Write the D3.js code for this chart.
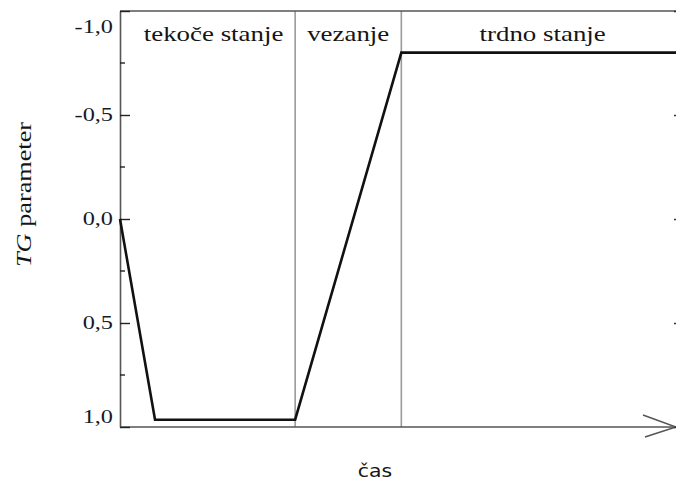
<!DOCTYPE html>
<html>
<head>
<meta charset="utf-8">
<script src="https://cdn.jsdelivr.net/npm/d3@7"></script>
<style>
  html, body { margin: 0; padding: 0; background: #fff; }
  svg { display: block; }
  text { font-family: "Liberation Serif", "Times New Roman", serif; fill: #151515; }
  text.sans { font-family: "DejaVu Sans", sans-serif; }
</style>
</head>
<body>
<svg id="chart" width="676" height="484" viewBox="0 0 676 484"></svg>
<script>
// TG parameter vs time — phases of setting (liquid / setting / solid)
const yTicks      = [-1, -0.5, 0, 0.5, 1];
const yTickLabels = ["-1,0", "-0,5", "0,0", "0,5", "1,0"];
const yMinor      = [-0.75, -0.25, 0.25, 0.75];
const phases      = ["tekoče stanje", "vezanje", "trdno stanje"];
const phaseBounds = [0, 31.5, 50.6, 100];   // time units (arbitrary, 0..100)
const time        = [0, 6.3, 31.5, 50.6, 100];
const tg          = [0, 0.965, 0.965, -0.8, -0.8];

const W = 676, H = 484;
const x = d3.scaleLinear([0, 100], [120, 676]);
const y = d3.scaleLinear([-1, 1], [11, 427]);

const svg = d3.select("#chart");
svg.append("rect").attr("width", W).attr("height", H).attr("fill", "#fff");

// stretch text horizontally (source glyphs are wide)
function widen(sel, k) {
  sel.each(function () {
    const w = this.getComputedTextLength();
    d3.select(this).attr("textLength", w * k).attr("lengthAdjust", "spacingAndGlyphs");
  });
}

// phase dividers
svg.append("g").selectAll("line").data(phaseBounds.slice(1, -1)).join("line")
  .attr("x1", d => x(d)).attr("x2", d => x(d))
  .attr("y1", y(-1)).attr("y2", y(1))
  .attr("stroke", "#9a9a9a").attr("stroke-width", 1.6);

// frame: top line and bottom axis with arrow
svg.append("line").attr("x1", x(0)).attr("x2", W).attr("y1", y(-1)).attr("y2", y(-1))
  .attr("stroke", "#555").attr("stroke-width", 1.6);
svg.append("line").attr("x1", x(0)).attr("x2", W).attr("y1", y(1)).attr("y2", y(1))
  .attr("stroke", "#555").attr("stroke-width", 1.6);
svg.append("path")
  .attr("d", `M${W - 33},${y(1) - 12} L${W},${y(1)} L${W - 31},${y(1) + 10}`)
  .attr("fill", "none").attr("stroke", "#555").attr("stroke-width", 1.6);

// left axis, ticks pointing inward
const axL = svg.append("g").attr("transform", `translate(${x(0)},0)`)
  .call(d3.axisLeft(y).tickValues(yTicks).tickSizeInner(-10).tickSizeOuter(0).tickPadding(7)
    .tickFormat((d, i) => yTickLabels[i]));
axL.select(".domain").attr("stroke", "#555").attr("stroke-width", 1.6);
axL.selectAll(".tick line").attr("stroke", "#222").attr("stroke-width", 1.4);
axL.selectAll(".tick text")
  .attr("font-size", 18).style("fill", "#141a28")
  .attr("y", d => Math.min(Math.max(y(d), 27), 417) - y(d));
widen(axL.selectAll(".tick text"), 1.35);
svg.append("g").attr("transform", `translate(${x(0)},0)`)
  .selectAll("line").data(yMinor).join("line")
  .attr("x1", 0).attr("x2", 5).attr("y1", d => y(d)).attr("y2", d => y(d))
  .attr("stroke", "#222").attr("stroke-width", 1.4);

// right axis (mostly outside the picture, only tick tips show)
const axR = svg.append("g").attr("transform", "translate(684,0)")
  .call(d3.axisRight(y).tickValues(yTicks).tickSizeInner(-10).tickSizeOuter(0).tickFormat(""));
axR.select(".domain").remove();
axR.selectAll(".tick line").attr("stroke", "#333").attr("stroke-width", 1.4);

// data line
const line = d3.line().x((d, i) => x(time[i])).y(d => y(d));
svg.append("path").datum(tg)
  .attr("d", line).attr("fill", "none")
  .attr("stroke", "#111").attr("stroke-width", 2.6).attr("stroke-linejoin", "miter");

// phase labels
const pl = svg.append("g").selectAll("text").data(phases).join("text")
  .attr("x", (d, i) => (x(phaseBounds[i]) + x(phaseBounds[i + 1])) / 2 + (i === 2 ? 4 : i === 0 ? 6 : 0))
  .attr("y", 40.5)
  .attr("text-anchor", "middle").attr("font-size", 21)
  .text(d => d);
widen(pl, 1.28);

// axis titles
const yt = svg.append("text")
  .attr("transform", "translate(31,194.5) rotate(-90)")
  .attr("text-anchor", "middle").attr("font-size", 22);
yt.append("tspan").attr("font-style", "italic").text("TG");
yt.append("tspan").text(" parameter");
yt.attr("textLength", 145).attr("lengthAdjust", "spacingAndGlyphs");

const xt = svg.append("text")
  .attr("class", "sans")
  .attr("x", 375).attr("y", 477)
  .attr("text-anchor", "middle")
  .attr("font-size", 17)
  .text("čas");
widen(xt, 1.2);
</script>
</body>
</html>
